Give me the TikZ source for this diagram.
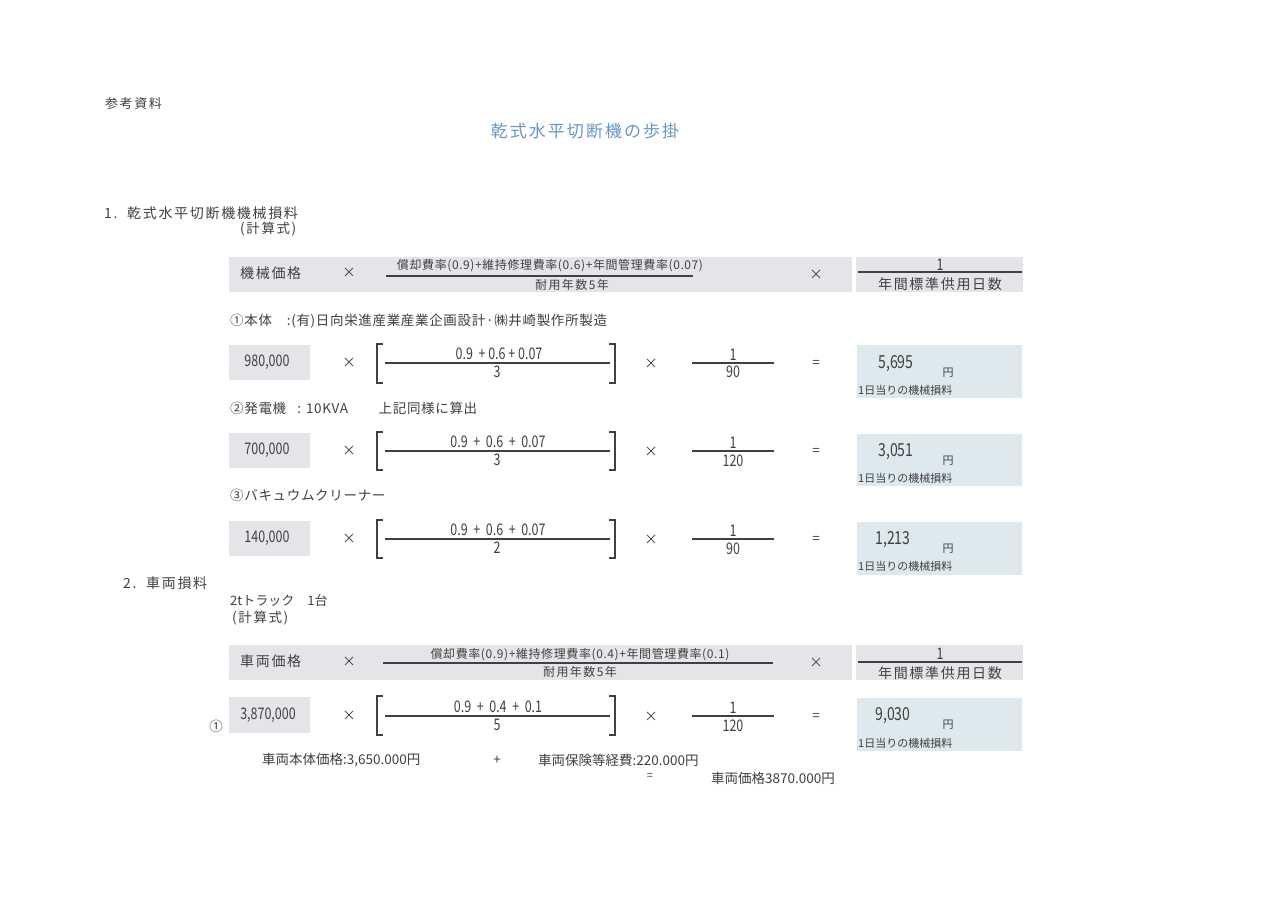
\documentclass[tikz,border=0pt]{standalone}
\usepackage{fontspec}
\newfontfamily\jp{Noto Sans CJK JP}
\newfontfamily\jpsp[LetterSpace=12]{Noto Sans CJK JP}
\newfontfamily\jpns[LetterSpace=5]{Noto Sans CJK JP}
\newfontfamily\numf[FakeStretch=0.78]{Noto Sans CJK JP}
\newcommand\fsz[1]{\fontsize{#1}{#1}\selectfont}
\definecolor{ink}{HTML}{404040}
\definecolor{titleblue}{HTML}{6A97C4}
\definecolor{graybox}{HTML}{E6E4E9}
\definecolor{bluebox}{HTML}{DEE9EE}
\tikzset{
  txt/.style={inner sep=0, text=ink, font=\jp\fsz{13.5}},
  wtxt/.style={inner sep=0, text=ink, font=\jpns\fsz{13.5}},
  sptxt/.style={inner sep=0, text=ink, font=\jpsp\fsz{13.5}},
  num/.style={inner sep=0, text=ink, font=\numf\fsz{16}},
  small/.style={inner sep=0, text=ink, font=\jp\fsz{11}},
  big/.style={inner sep=0, text=ink, font=\numf\fsz{18}},
  hnum/.style={inner sep=0, text=ink, font=\jpns\fsz{12}},
  gbox/.style={fill=graybox, draw=none},
  bbox/.style={fill=bluebox, draw=none},
  fracline/.style={draw=ink, line width=1.3pt},
  brk/.style={draw=ink, line width=1.2pt},
}
\begin{document}
\begin{tikzpicture}[x=1pt,y=-1pt]
\useasboundingbox (0,0) rectangle (1280,905);
\fill[white] (0,0) rectangle (1280,905);

% headings
\node[sptxt, anchor=west, font=\jpsp\fsz{13}] (ref) at (105,104) {参考資料};
\node[inner sep=0, text=titleblue, font=\jpsp\fsz{17}] (title) at (585,131) {乾式水平切断機の歩掛};
\node[sptxt, anchor=west, font=\jpsp\fsz{14}] (sec1) at (104,213) {1.\ \ 乾式水平切断機機械損料};
\node[sptxt, anchor=west] (calc1) at (240,229) {(計算式)};

% header band 1
\fill[gbox] (229,257) rectangle (852,292);
\fill[gbox] (856,257) rectangle (1023,292);
\node[sptxt, anchor=west, font=\jpsp\fsz{14}] (h1a) at (240,273) {機械価格};
\node[txt] (h1x1) at (349,273) {×};
\node[hnum] (h1num) at (550,266) {償却費率(0.9)+維持修理費率(0.6)+年間管理費率(0.07)};
\draw[fracline] (386,276) -- (693,276);
\node[sptxt, font=\jpsp\fsz{12}] (h1den) at (572,285) {耐用年数5年};
\node[txt] (h1x2) at (816,275) {×};
\node[num] (h1one) at (940,265) {1};
\draw[fracline] (858,272) -- (1022,272);
\node[sptxt, font=\jpsp\fsz{14}] (h1days) at (940,284) {年間標準供用日数};

% item 1
\node[wtxt, anchor=west] (it1) at (230,321) {①本体\ \ \ \ :(有)日向栄進産業産業企画設計·㈱井崎製作所製造};
\fill[gbox] (229,345) rectangle (310,380);
\node[num] (p1) at (267,362) {980,000};
\node[txt] (r1x1) at (349,363) {×};
\draw[brk] (383,344) -- (377,344) -- (377,383) -- (383,383);
\draw[brk] (609,344) -- (615,344) -- (615,383) -- (609,383);
\node[num] (r1n) at (499,354) {0.9\ \ + 0.6 + 0.07};
\draw[fracline] (385,363) -- (610,363);
\node[num] (r1d) at (497,372) {3};
\node[txt] (r1x2) at (651,364) {×};
\node[num] (r1one) at (733,355) {1};
\draw[fracline] (692,363) -- (774,363);
\node[num] (r1dd) at (733,372) {90};
\node[txt] (r1eq) at (816,364) {=};
\fill[bbox] (857,345) rectangle (1022,398);
\node[big] (r1res) at (896,364) {5,695};
\node[small] (r1yen) at (948,373) {円};
\node[small, anchor=west] (r1lab) at (858,390) {1日当りの機械損料};

% item 2
\node[wtxt, anchor=west] (it2) at (230,408) {②発電機\ \ \ : 10KVA\qquad\ 上記同様に算出};
\fill[gbox] (229,433) rectangle (310,468);
\node[num] (p2) at (267,450) {700,000};
\node[txt] (r2x1) at (349,451) {×};
\draw[brk] (383,432) -- (377,432) -- (377,470) -- (383,470);
\draw[brk] (609,432) -- (615,432) -- (615,470) -- (609,470);
\node[num] (r2n) at (498,442) {0.9\ \ +\ \ 0.6\ \ +\ \ 0.07};
\draw[fracline] (385,451) -- (610,451);
\node[num] (r2d) at (497,460) {3};
\node[txt] (r2x2) at (651,452) {×};
\node[num] (r2one) at (733,443) {1};
\draw[fracline] (692,451) -- (774,451);
\node[num] (r2dd) at (733,461) {120};
\node[txt] (r2eq) at (816,452) {=};
\fill[bbox] (857,434) rectangle (1022,486);
\node[big] (r2res) at (896,452) {3,051};
\node[small] (r2yen) at (948,461) {円};
\node[small, anchor=west] (r2lab) at (858,478) {1日当りの機械損料};

% item 3
\node[wtxt, anchor=west] (it3) at (230,495) {③バキュウムクリーナー};
\fill[gbox] (229,521) rectangle (310,556);
\node[num] (p3) at (267,538) {140,000};
\node[txt] (r3x1) at (349,539) {×};
\draw[brk] (383,520) -- (377,520) -- (377,558) -- (383,558);
\draw[brk] (609,520) -- (615,520) -- (615,558) -- (609,558);
\node[num] (r3n) at (498,530) {0.9\ \ +\ \ 0.6\ \ +\ \ 0.07};
\draw[fracline] (385,539) -- (610,539);
\node[num] (r3d) at (497,548) {2};
\node[txt] (r3x2) at (651,540) {×};
\node[num] (r3one) at (733,531) {1};
\draw[fracline] (692,539) -- (774,539);
\node[num] (r3dd) at (733,549) {90};
\node[txt] (r3eq) at (816,540) {=};
\fill[bbox] (857,522) rectangle (1022,575);
\node[big] (r3res) at (893,540) {1,213};
\node[small] (r3yen) at (948,549) {円};
\node[small, anchor=west] (r3lab) at (858,566) {1日当りの機械損料};

% section 2
\node[sptxt, anchor=west, font=\jpsp\fsz{14}] (sec2) at (123,583) {2.\ \ 車両損料};
\node[txt, anchor=west, font=\jp\fsz{13}] (truck) at (230,601) {2tトラック\quad 1台};
\node[sptxt, anchor=west] (calc2) at (232,618) {(計算式)};

% header band 2
\fill[gbox] (229,645) rectangle (852,680);
\fill[gbox] (856,645) rectangle (1023,680);
\node[sptxt, anchor=west, font=\jpsp\fsz{14}] (h2a) at (240,661) {車両価格};
\node[txt] (h2x1) at (349,662) {×};
\node[hnum] (h2num) at (580,655) {償却費率(0.9)+維持修理費率(0.4)+年間管理費率(0.1)};
\draw[fracline] (383,663) -- (773,663);
\node[sptxt, font=\jpsp\fsz{12}] (h2den) at (580,672) {耐用年数5年};
\node[txt] (h2x2) at (816,663) {×};
\node[num] (h2one) at (940,654) {1};
\draw[fracline] (858,662) -- (1022,662);
\node[sptxt, font=\jpsp\fsz{14}] (h2days) at (940,673) {年間標準供用日数};

% vehicle row
\node[txt] (c1) at (216,726) {①};
\fill[gbox] (229,697) rectangle (310,733);
\node[num] (p4) at (268,715) {3,870,000};
\node[txt] (r4x1) at (349,716) {×};
\draw[brk] (383,696) -- (377,696) -- (377,735) -- (383,735);
\draw[brk] (609,696) -- (615,696) -- (615,735) -- (609,735);
\node[num] (r4n) at (498,707) {0.9\ \ +\ \ 0.4\ \ +\ \ 0.1};
\draw[fracline] (385,716) -- (610,716);
\node[num] (r4d) at (497,725) {5};
\node[txt] (r4x2) at (651,717) {×};
\node[num] (r4one) at (733,708) {1};
\draw[fracline] (692,716) -- (774,716);
\node[num] (r4dd) at (733,726) {120};
\node[txt] (r4eq) at (816,717) {=};
\fill[bbox] (857,698) rectangle (1022,751);
\node[big] (r4res) at (893,716) {9,030};
\node[small] (r4yen) at (948,725) {円};
\node[small, anchor=west] (r4lab) at (858,743) {1日当りの機械損料};

% footnote
\node[txt, anchor=west] (f1) at (262,760) {車両本体価格:3,650.000円};
\node[txt] (fplus) at (497,760) {+};
\node[txt, anchor=west] (f2) at (538,760) {車両保険等経費:220.000円};
\node[small] (feq) at (650,777) {=};
\node[txt, anchor=west] (f3) at (711,778) {車両価格3870.000円};
\end{tikzpicture}
\end{document}
